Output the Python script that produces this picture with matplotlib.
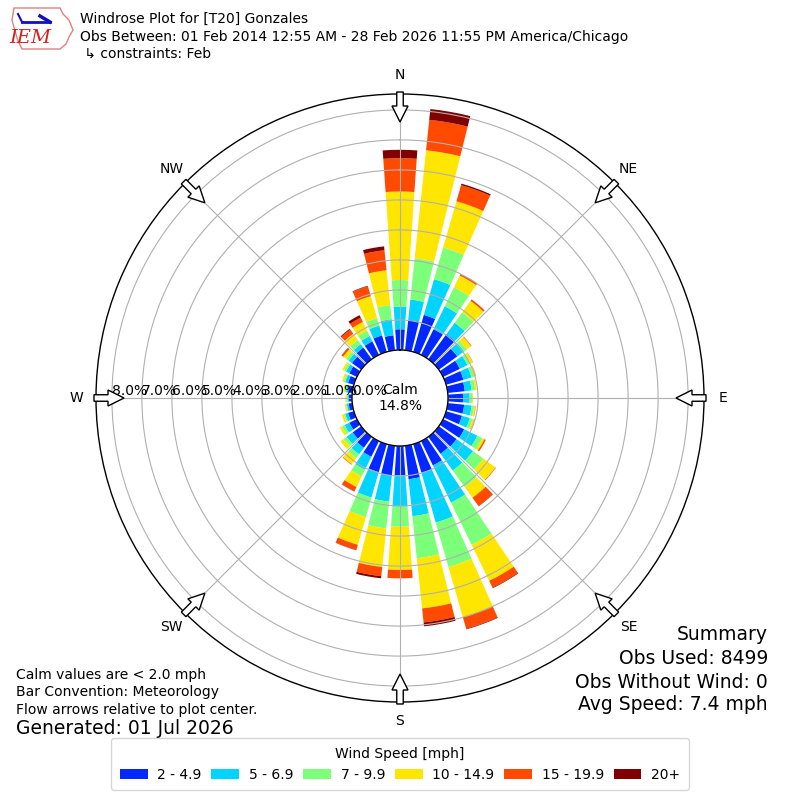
import numpy as np
import matplotlib
matplotlib.use('Agg')
import matplotlib.pyplot as plt
from matplotlib.patches import FancyArrow, Polygon
from matplotlib.lines import Line2D

# ---------------- data (percent of observations) ----------------
directions = np.arange(0, 360, 10)
speed_bins = ['2 - 4.9', '5 - 6.9', '7 - 9.9', '10 - 14.9', '15 - 19.9', '20+']
bin_colors = ['#0028ff', '#00d4ff', '#7cff79', '#ffe600', '#ff4a00', '#800000']

freq_2_5 = [0.69, 1.02, 1.28, 0.95, 1.03, 0.76, 0.62, 0.60, 0.57, 0.50, 0.55, 0.55,
            0.78, 0.73, 0.70, 0.90, 1.00, 1.12, 0.97, 1.00, 0.97, 0.58, 0.45, 0.35,
            0.28, 0.20, 0.12, 0.10, 0.14, 0.20, 0.28, 0.38, 0.48, 0.50, 0.57, 0.50]
freq_5_7 = [0.75, 0.68, 1.24, 0.85, 0.47, 0.28, 0.28, 0.28, 0.23, 0.22, 0.25, 0.27,
            0.49, 0.68, 0.69, 1.38, 1.72, 1.24, 1.05, 0.87, 0.88, 0.48, 0.27, 0.25,
            0.17, 0.10, 0.06, 0.05, 0.07, 0.10, 0.12, 0.14, 0.14, 0.20, 0.34, 0.54]
freq_7_10 = [0.89, 1.38, 1.10, 0.70, 0.43, 0.11, 0.12, 0.10, 0.12, 0.08, 0.08, 0.10,
             0.18, 0.43, 0.68, 1.57, 1.54, 1.41, 0.67, 0.90, 0.68, 0.25, 0.16, 0.12,
             0.10, 0.05, 0.03, 0.03, 0.04, 0.05, 0.07, 0.10, 0.17, 0.20, 0.26, 0.47]
freq_10_15 = [2.95, 3.62, 1.60, 0.44, 0.47, 0.18, 0.08, 0.05, 0.05, 0.03, 0.05, 0.05,
              0.08, 0.49, 0.44, 1.33, 1.74, 1.68, 1.44, 1.29, 0.96, 0.39, 0.25, 0.13,
              0.08, 0.07, 0.04, 0.04, 0.05, 0.06, 0.07, 0.12, 0.26, 0.32, 0.76, 1.17]
freq_15_20 = [1.11, 1.02, 0.56, 0.05, 0.06, 0.02, 0.01, 0.01, 0.00, 0.00, 0.01, 0.01,
              0.05, 0.02, 0.34, 0.25, 0.40, 0.47, 0.28, 0.31, 0.18, 0.16, 0.02, 0.00,
              0.00, 0.00, 0.00, 0.00, 0.00, 0.00, 0.00, 0.06, 0.17, 0.16, 0.34, 0.67]
freq_20p = [0.28, 0.36, 0.05, 0.01, 0.00, 0.00, 0.00, 0.00, 0.00, 0.00, 0.00, 0.00,
            0.00, 0.00, 0.01, 0.02, 0.02, 0.13, 0.00, 0.07, 0.01, 0.01, 0.00, 0.00,
            0.00, 0.00, 0.00, 0.00, 0.00, 0.00, 0.00, 0.01, 0.03, 0.09, 0.02, 0.13]
series = [freq_2_5, freq_5_7, freq_7_10, freq_10_15, freq_15_20, freq_20p]

calm_pct = 14.8
rticks = [0, 1, 2, 3, 4, 5, 6, 7, 8]
compass_angles = [0, 45, 90, 135, 180, 225, 270, 315]
compass_labels = ['N', 'NE', 'E', 'SE', 'S', 'SW', 'W', 'NW']

# ---------------- figure ----------------
fig = plt.figure(figsize=(8, 8), dpi=100)
ax = fig.add_axes([0.12, 0.1225, 0.76, 0.76], projection='polar')
ax.set_theta_zero_location('N')
ax.set_theta_direction(-1)
ax.set_rlim(0, 8.53)
ax.set_rorigin(-1.6)

theta = np.deg2rad(directions)
width = np.deg2rad(8.0)
bottom = np.zeros(len(directions))
handles = []
for vals, col, lab in zip(series, bin_colors, speed_bins):
    vals = np.asarray(vals)
    bc = ax.bar(theta, vals, width=width, bottom=bottom, color=col,
                edgecolor='none', linewidth=0, label=lab)
    handles.append(bc)
    bottom = bottom + vals

ax.set_rticks(rticks)
ax.set_yticklabels([])
ax.set_thetagrids(compass_angles, labels=[''] * len(compass_angles))
ax.grid(True, color='#b0b0b0', linewidth=0.8)
for sp in ax.spines.values():
    sp.set_color('black')
    sp.set_linewidth(1.0)

# radial labels on the W axis
for r in rticks:
    ax.text(np.deg2rad(270), r, f'{r:.1f}%', ha='left', va='bottom',
            fontsize=10, clip_on=False)

ax.text(0.5, 0.5, f'Calm\n{calm_pct:.1f}%', transform=ax.transAxes,
        ha='center', va='center', fontsize=10)

for ang, lab in zip(compass_angles, compass_labels):
    ax.text(np.deg2rad(ang), 9.17, lab, ha='center', va='center',
            fontsize=10, clip_on=False)

# flow arrows at the compass points
cx, cy = 0.5, 0.5025
for ang in compass_angles:
    a = np.deg2rad(ang)
    ux, uy = np.sin(a), np.cos(a)
    x0 = cx + 306 / 800 * ux
    y0 = cy + 306 / 800 * uy
    arr = FancyArrow(x0, y0, -30 / 800 * ux, -30 / 800 * uy,
                     width=6.5 / 800, head_width=16 / 800, head_length=16 / 800,
                     length_includes_head=True, facecolor='white',
                     edgecolor='black', linewidth=1.0,
                     transform=fig.transFigure, zorder=5)
    fig.add_artist(arr)

# ---------------- logo ----------------
def px(x, y):
    return (x / 800, 1 - y / 800)

iowa = [px(14, 8), px(60, 8), px(63, 14), px(69, 20), px(73, 30), px(69, 37),
        px(66, 44), px(60, 49), px(22, 49), px(18, 41), px(15, 31), px(12, 20)]
fig.add_artist(Polygon(iowa, closed=True, fill=False, edgecolor='#e08080',
                       linewidth=1.0, transform=fig.transFigure))
fig.add_artist(Line2D([22 / 800, 50 / 800], [1 - 22 / 800, 1 - 22 / 800],
                      color='#1010c0', linewidth=2.0, transform=fig.transFigure))
fig.add_artist(Line2D([18 / 800, 22 / 800], [1 - 14 / 800, 1 - 22 / 800],
                      color='#1010c0', linewidth=1.5, transform=fig.transFigure))
fig.add_artist(Line2D([40 / 800, 50 / 800], [1 - 16 / 800, 1 - 22 / 800],
                      color='#1010c0', linewidth=2.5, transform=fig.transFigure))
fig.text(30 / 800, 1 - 38 / 800, 'IEM', color='#d42020', fontsize=14,
         family='DejaVu Serif', style='italic', ha='center', va='center')

# ---------------- text ----------------
fig.text(80 / 800, 1 - 19 / 800, 'Windrose Plot for [T20] Gonzales',
         fontsize=10, va='center')
fig.text(80 / 800, 1 - 37 / 800,
         'Obs Between: 01 Feb 2014 12:55 AM - 28 Feb 2026 11:55 PM America/Chicago',
         fontsize=10, va='center')
fig.text(80 / 800, 1 - 54 / 800, ' \u21b3 constraints: Feb', fontsize=10, va='center')

fig.text(16 / 800, 1 - 675 / 800, 'Calm values are < 2.0 mph', fontsize=10, va='center')
fig.text(16 / 800, 1 - 692 / 800, 'Bar Convention: Meteorology', fontsize=10, va='center')
fig.text(16 / 800, 1 - 710 / 800, 'Flow arrows relative to plot center.', fontsize=10, va='center')
fig.text(16 / 800, 1 - 729 / 800, 'Generated: 01 Jul 2026', fontsize=13.5, va='center')

fig.text(768 / 800, 1 - 635 / 800, 'Summary', fontsize=13.5, ha='right', va='center')
fig.text(768 / 800, 1 - 658 / 800, 'Obs Used: 8499', fontsize=13.5, ha='right', va='center')
fig.text(768 / 800, 1 - 682 / 800, 'Obs Without Wind: 0', fontsize=13.5, ha='right', va='center')
fig.text(768 / 800, 1 - 705 / 800, 'Avg Speed: 7.4 mph', fontsize=13.5, ha='right', va='center')

fig.legend(handles=handles, labels=speed_bins, loc='lower center',
           bbox_to_anchor=(0.5, 10 / 800), borderaxespad=0, ncol=6,
           columnspacing=0.7, handletextpad=0.7, borderpad=0.6,
           title='Wind Speed [mph]', fontsize=10, title_fontsize=10)

fig.savefig('out.png', dpi=100)
